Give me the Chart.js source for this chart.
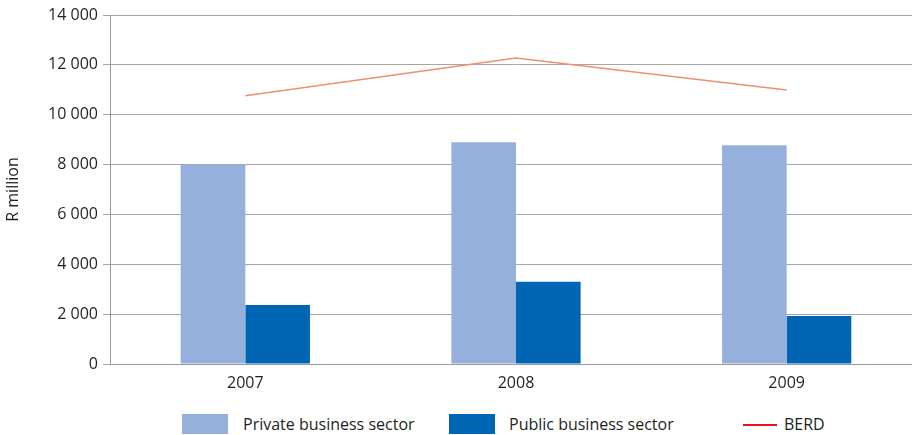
<!DOCTYPE html>
<html>
<head>
<meta charset="utf-8">
<script src="https://cdn.jsdelivr.net/npm/chart.js@4"></script>
<style>
  body { margin: 0; background: #fff; overflow: hidden; width: 912px; height: 435px; position: relative; }
  #chartBox { position: absolute; left: 0; top: 0; width: 922px; height: 400px; }
  .legend-item { position: absolute; font-family: "Open Sans", sans-serif; font-size: 16px; color: #231f20; line-height: 20px; white-space: nowrap; }
  .swatch { position: absolute; width: 46px; height: 20px; }
  .swatch-line { position: absolute; width: 34px; height: 1.5px; background: #e3141b; }
</style>
</head>
<body>
<div id="chartBox"><canvas id="berdChart" width="922" height="400"></canvas></div>

<div class="swatch" style="left:182px; top:414px; background:#95b0da;"></div>
<div class="legend-item" style="left:243px; top:414px;">Private business sector</div>
<div class="swatch" style="left:449px; top:414px; background:#0066b3;"></div>
<div class="legend-item" style="left:509px; top:414px;">Public business sector</div>
<div class="swatch-line" style="left:743px; top:424px;"></div>
<div class="legend-item" style="left:784px; top:414px;">BERD</div>

<script>
/* BERD by sector, R million */
const years = ["2007", "2008", "2009"];
const privateSector = [8000, 8900, 8780];
const publicSector = [2370, 3300, 1930];
const berd = [10760, 12270, 10990];
const yTicks = [0, 2000, 4000, 6000, 8000, 10000, 12000, 14000];

function spaced(v) {
    return String(v).replace(/\B(?=(\d{3})+(?!\d))/g, " ");
}

const textColor = "#231f20";
const fontFamily = "'Open Sans', sans-serif";

new Chart(document.getElementById("berdChart"), {
    type: "bar",
    data: {
        labels: years,
        datasets: [
            {
                type: "line",
                label: "BERD",
                data: berd,
                borderColor: "#f28e72",
                borderWidth: 1.5,
                pointRadius: 0,
                tension: 0,
                fill: false,
                order: 0
            },
            {
                label: "Private business sector",
                data: privateSector,
                backgroundColor: "#95b0da",
                borderWidth: 0,
                order: 1
            },
            {
                label: "Public business sector",
                data: publicSector,
                backgroundColor: "#0066b3",
                borderWidth: 0,
                order: 1
            }
        ]
    },
    options: {
        responsive: false,
        animation: false,
        devicePixelRatio: 1,
        categoryPercentage: 0.4775,
        barPercentage: 1.0,
        layout: {
            padding: { top: 15, right: 0, bottom: 0, left: 0 }
        },
        plugins: {
            legend: { display: false },
            tooltip: { enabled: false }
        },
        scales: {
            x: {
                grid: { display: false, drawTicks: false },
                border: { display: true, color: "#999999", width: 1 },
                ticks: {
                    color: textColor,
                    padding: 10,
                    font: { family: fontFamily, size: 16 }
                },
                afterFit: function (scale) { scale.height = 36; }
            },
            y: {
                min: 0,
                max: 14000,
                afterBuildTicks: function (scale) {
                    scale.ticks = yTicks.map(function (v) { return { value: v }; });
                },
                grid: {
                    color: "#a6a6a6",
                    lineWidth: 1,
                    tickLength: 7,
                    drawTicks: true
                },
                border: { display: true, color: "#999999", width: 1 },
                ticks: {
                    color: textColor,
                    padding: 5,
                    font: { family: fontFamily, size: 16 },
                    callback: function (v) { return spaced(v); }
                },
                title: {
                    display: true,
                    text: "R million",
                    color: textColor,
                    font: { family: fontFamily, size: 16 }
                },
                afterFit: function (scale) { scale.width = 110; }
            }
        }
    }
});
</script>
</body>
</html>
